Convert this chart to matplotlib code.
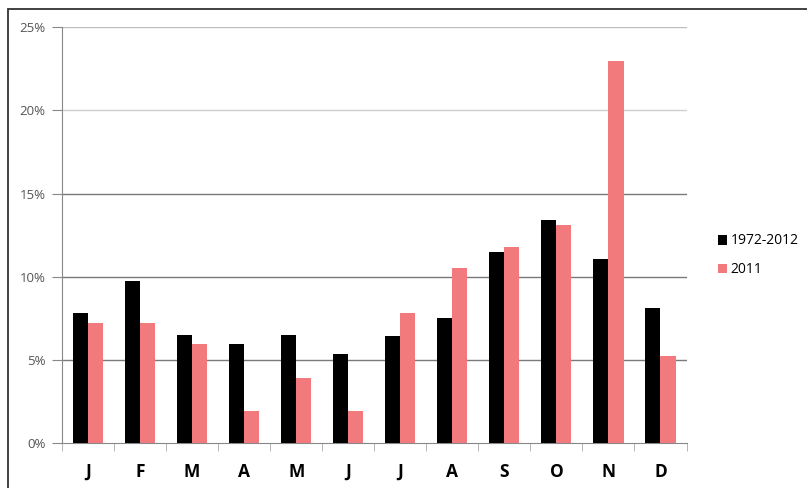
import matplotlib
matplotlib.use("Agg")
import matplotlib.pyplot as plt
import numpy as np
from matplotlib.patches import Rectangle
from matplotlib.ticker import FixedLocator, NullFormatter

months = ["J", "F", "M", "A", "M", "J", "J", "A", "S", "O", "N", "D"]
series_names = ["1972-2012", "2011"]
avg_1972_2012 = [7.8, 9.75, 6.5, 5.95, 6.5, 5.35, 6.45, 7.5, 11.5, 13.4, 11.05, 8.1]
year_2011 = [7.2, 7.2, 5.95, 1.95, 3.95, 1.95, 7.85, 10.5, 11.8, 13.1, 22.95, 5.25]
yticks = [0, 5, 10, 15, 20, 25]
ytick_labels = ["0%", "5%", "10%", "15%", "20%", "25%"]

W, H = 807, 488
fig = plt.figure(figsize=(W / 100, H / 100), dpi=100)
fig.patch.set_facecolor("white")

# outer frame
fig.patches.append(Rectangle((8 / W, -0.1), 1.2, (H - 9) / H + 0.1,
                             transform=fig.transFigure, fill=False,
                             edgecolor="#333333", linewidth=1.3))

ax = fig.add_axes([62 / W, (H - 443.3) / H, (686.5 - 62) / W, (443.3 - 27) / H])
x = np.arange(len(months))
bw = 0.29
black = "#000000"
pink = "#F27A7C"
ax.bar(x - bw / 2, avg_1972_2012, width=bw, color=black, label=series_names[0], zorder=3)
ax.bar(x + bw / 2, year_2011, width=bw, color=pink, label=series_names[1], zorder=3)

ax.set_xlim(-0.5, len(months) - 0.5)
ax.set_ylim(0, 25)
ax.set_yticks(yticks)
ax.set_yticklabels(ytick_labels, fontsize=9.5, color="#555555", family="Open Sans")

grid_colors = {5: "#7a7a7a", 10: "#7a7a7a", 15: "#7a7a7a", 20: "#cfcfcf", 25: "#bdbdbd"}
for yv, c in grid_colors.items():
    ax.axhline(yv, color=c, linewidth=1.0, zorder=1)

for s in ["top", "right"]:
    ax.spines[s].set_visible(False)
ax.spines["left"].set_color("#888888")
ax.spines["bottom"].set_color("#888888")

ax.tick_params(axis="y", length=7, color="#888888", pad=5, direction="out")
ax.xaxis.set_major_locator(FixedLocator(x))
ax.set_xticklabels(months, fontsize=12.5, fontweight="bold", family="Open Sans")
ax.tick_params(axis="x", length=0, pad=14)
ax.xaxis.set_minor_locator(FixedLocator(np.arange(-0.5, len(months), 1.0)))
ax.xaxis.set_minor_formatter(NullFormatter())
ax.tick_params(axis="x", which="minor", length=6, color="#aaaaaa", direction="out")

leg = fig.legend(loc="upper left", bbox_to_anchor=(705 / W, (H - 221) / H),
                 frameon=False, handlelength=0.7, handleheight=0.7,
                 handletextpad=0.25, labelspacing=1.0,
                 prop={"family": "Open Sans", "size": 10})

fig.savefig("out.png", dpi=100)
